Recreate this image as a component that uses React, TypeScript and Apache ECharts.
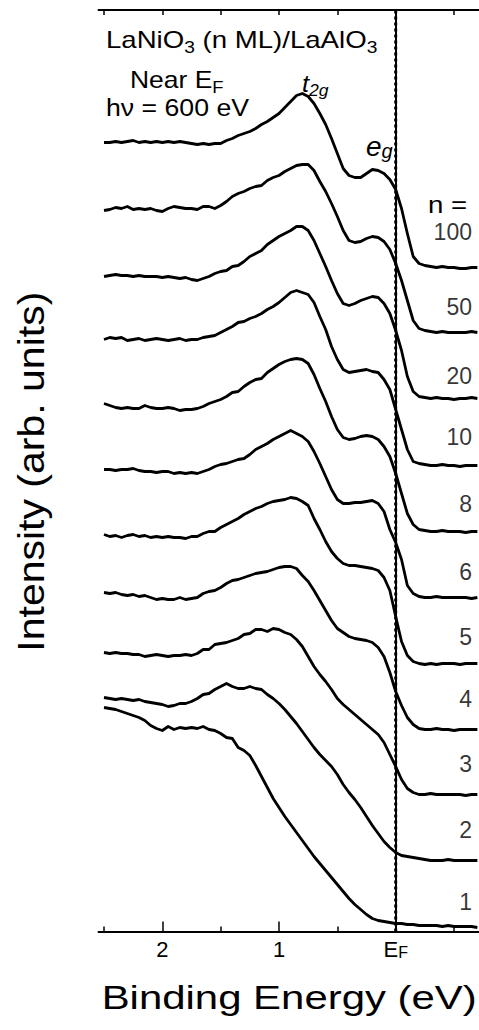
import React, { useEffect, useRef } from "react";
import * as echarts from "echarts";

// Binding energy grid (eV), read every 0.05 eV
const energy = [
  2.5, 2.45, 2.4, 2.35, 2.3, 2.25, 2.2, 2.15, 2.1, 2.05,
  2.0, 1.95, 1.9, 1.85, 1.8, 1.75, 1.7, 1.65, 1.6, 1.55,
  1.5, 1.45, 1.4, 1.35, 1.3, 1.25, 1.2, 1.15, 1.1, 1.05,
  1.0, 0.95, 0.9, 0.85, 0.8, 0.75, 0.7, 0.65, 0.6, 0.55,
  0.5, 0.45, 0.4, 0.35, 0.3, 0.25, 0.2, 0.15, 0.1, 0.05,
  0.0, -0.05, -0.1, -0.15, -0.2, -0.25, -0.3, -0.35, -0.4, -0.45,
  -0.5, -0.55, -0.6, -0.65, -0.7,
];

const layerLabels = ["100", "50", "20", "10", "8", "6", "5", "4", "3", "2", "1"];

// vertical offset of each spectrum (arb. units)
const offsets = [664, 599, 533, 466, 400, 334, 268, 202, 137, 71, 5];

// intensities above each spectrum's own baseline
const n100 = [
  125, 125, 126, 125, 126, 127, 125, 126, 125, 126,
  125, 126, 125, 126, 125, 124, 123, 124, 123, 124,
  124, 127, 129, 132, 134, 136, 139, 143, 146, 150,
  154, 160, 166, 172, 174, 171, 164, 154, 143, 129,
  114, 99, 92, 90, 90, 94, 98, 97, 94, 88,
  78, 59, 34, 11, 4, 2, 1, 0, 1, 0,
  0, -1, -1, 0, 0,
];
const n50 = [
  122, 123, 125, 124, 126, 123, 124, 123, 124, 122,
  121, 124, 126, 125, 124, 124, 123, 126, 126, 124,
  127, 131, 136, 139, 141, 144, 146, 147, 152, 155,
  157, 161, 164, 167, 168, 168, 162, 151, 141, 129,
  116, 102, 92, 90, 91, 94, 96, 95, 91, 83,
  69, 52, 32, 12, 4, 2, 1, 0, 1, 0,
  0, 0, 0, 1, 0,
];
const n20 = [
  122, 123, 124, 123, 123, 122, 123, 122, 122, 122,
  121, 122, 121, 120, 121, 119, 118, 120, 122, 125,
  127, 128, 132, 133, 137, 142, 145, 148, 154, 158,
  162, 165, 168, 172, 172, 168, 158, 145, 132, 118,
  105, 95, 93, 95, 98, 100, 102, 101, 95, 85,
  68, 48, 22, 7, 2, 1, 0, 1, 0, 0,
  -1, 0, 0, 1, 0,
];
const n10 = [
  126, 128, 127, 128, 125, 126, 127, 125, 126, 127,
  126, 125, 126, 127, 125, 126, 126, 128, 129, 130,
  133, 136, 139, 143, 144, 147, 149, 152, 156, 159,
  163, 168, 173, 175, 173, 171, 163, 149, 136, 119,
  106, 96, 93, 94, 95, 96, 94, 93, 86, 76,
  56, 36, 16, 4, 2, 1, 0, 0, 1, 0,
  0, -1, 0, 0, 0,
];
const n8 = [
  128, 126, 124, 123, 124, 123, 123, 126, 124, 123,
  123, 124, 123, 121, 122, 122, 123, 125, 128, 130,
  132, 135, 139, 140, 145, 149, 152, 153, 159, 163,
  167, 170, 172, 173, 172, 168, 157, 143, 130, 115,
  102, 94, 92, 93, 95, 96, 95, 92, 85, 75,
  58, 38, 18, 7, 2, 1, 0, 0, 1, 0,
  0, 0, -1, 0, 0,
];
const n6 = [
  128, 128, 127, 128, 128, 129, 127, 126, 126, 125,
  126, 126, 124, 125, 124, 125, 124, 126, 128, 131,
  133, 134, 136, 138, 139, 143, 148, 151, 154, 158,
  161, 164, 167, 164, 161, 156, 146, 134, 121, 108,
  98, 94, 94, 95, 95, 96, 97, 94, 86, 68,
  55, 38, 12, 4, 1, 0, 0, 1, 0, 0,
  0, 0, 0, -1, 0,
];
const n5 = [
  129, 127, 128, 126, 128, 129, 127, 128, 126, 127,
  126, 127, 126, 126, 125, 127, 127, 130, 132, 132,
  136, 139, 142, 145, 149, 152, 155, 157, 160, 162,
  163, 164, 166, 165, 162, 158, 145, 134, 122, 112,
  105, 100, 98, 98, 97, 96, 95, 93, 86, 73,
  47, 22, 8, 2, 0, -1, 0, -1, 0, 0,
  0, -1, 0, 0, 0,
];
const n4 = [
  137, 136, 137, 135, 134, 135, 133, 134, 132, 130,
  131, 130, 130, 132, 130, 131, 132, 136, 138, 139,
  142, 146, 149, 150, 152, 154, 156, 157, 158, 160,
  162, 163, 163, 161, 154, 148, 139, 129, 119, 109,
  101, 97, 93, 91, 90, 89, 87, 82, 73, 57,
  38, 24, 12, 5, 1, 0, 0, 1, 0, 0,
  -1, 0, 0, 0, 0,
];
const n3 = [
  142, 141, 142, 141, 141, 140, 140, 138, 139, 140,
  139, 138, 139, 139, 140, 139, 141, 145, 145, 150,
  151, 152, 154, 156, 160, 161, 165, 165, 163, 166,
  165, 162, 160, 155, 148, 138, 128, 120, 113, 105,
  96, 90, 85, 80, 75, 70, 65, 60, 52, 40,
  28, 15, 6, 2, 0, 0, 1, 0, 0, 0,
  0, 0, -1, 0, 0,
];
const n2 = [
  163, 162, 161, 162, 161, 160, 161, 159, 158, 157,
  156, 154, 155, 157, 157, 159, 162, 166, 167, 171,
  174, 177, 174, 172, 172, 174, 172, 171, 166, 162,
  157, 151, 144, 137, 129, 121, 113, 106, 100, 94,
  86, 76, 68, 61, 53, 44, 35, 27, 19, 13,
  8, 5, 4, 3, 2, 1, 0, 0, 0, 1,
  0, 0, 0, 0, 0,
];
const n1 = [
  219, 218, 217, 215, 213, 211, 209, 206, 201, 198,
  196, 200, 197, 199, 198, 199, 198, 200, 197, 196,
  193, 189, 188, 179, 176, 171, 161, 150, 139, 128,
  119, 110, 102, 94, 86, 78, 70, 63, 56, 49,
  42, 35, 28, 22, 17, 12, 8, 6, 5, 4,
  3, 3, 2, 2, 1, 1, 1, 1, 0, 1,
  0, 0, 0, 0, -1,
];

const spectra = [n100, n50, n20, n10, n8, n6, n5, n4, n3, n2, n1];

const majorTicks = [2, 1, 0];
const minorTicks = [2.5, 1.5, 0.5, -0.5];
const allTicks = [2.5, 2, 1.5, 1, 0.5, 0, -0.5];
const fermiLevel = 0;

// ---- layout (not data) ----
const X_MIN = -0.714;
const X_MAX = 2.547;
const Y_MAX = 921.5;
const LABEL_E = -0.654;
const labelLift = [36, 26, 23, 29, 28, 26, 27, 31, 31, 31, 25];
const FONT = "'Liberation Sans', Arial, Helvetica, sans-serif";

function buildOption() {
  const baseX = {
    type: "value",
    min: X_MIN,
    max: X_MAX,
    inverse: true,
    splitLine: { show: false },
  };
  const lineSeries = spectra.map((vals, i) => ({
    type: "line",
    name: "n = " + layerLabels[i],
    xAxisIndex: 0,
    yAxisIndex: 0,
    data: energy.map((e, j) => [e, offsets[i] + vals[j]]),
    showSymbol: false,
    symbol: "none",
    smooth: false,
    lineStyle: { color: "#000", width: 2.8, join: "round" },
    silent: true,
    z: 3,
  }));

  const fermiSeries = {
    type: "line",
    name: "EF",
    xAxisIndex: 0,
    yAxisIndex: 0,
    data: [
      [fermiLevel, 0],
      [fermiLevel, Y_MAX],
    ],
    showSymbol: false,
    symbol: "none",
    silent: true,
    z: 2,
    lineStyle: { color: "#000", width: 3, type: [3, 3], opacity: 1 },
  };

  const labelSeries = {
    type: "scatter",
    xAxisIndex: 0,
    yAxisIndex: 0,
    symbolSize: 1,
    itemStyle: { color: "transparent" },
    silent: true,
    data: layerLabels.map((t, i) => ({
      value: [LABEL_E, offsets[i] + labelLift[i]],
      name: t,
    })),
    label: {
      show: true,
      position: "inside",
      align: "right",
      verticalAlign: "middle",
      formatter: (p: any) => p.name,
      color: "#000",
      fontSize: 23,
      fontFamily: FONT,
    },
  };

  const text = (
    x: number,
    y: number,
    t: string,
    rich: any,
    opts: any = {}
  ) => ({
    type: "text",
    x,
    y,
    silent: true,
    z: 10,
    ...opts,
    style: {
      text: t,
      rich,
      fill: "#000",
      fontSize: 23,
      fontFamily: FONT,
      textAlign: opts.align || "left",
      align: opts.align || "left",
      textVerticalAlign: "middle",
      verticalAlign: "middle",
    },
  });

  const mainTok = { fontSize: 23, fontFamily: FONT, fill: "#000" };
  const subTok = {
    fontSize: 16,
    fontFamily: FONT,
    fill: "#000",
    padding: [15, 0, 0, 0],
  };

  return {
    animation: false,
    backgroundColor: "#fff",
    grid: { left: 98.5, right: 0, top: 10, bottom: 98.5, containLabel: false },
    xAxis: [
      {
        ...baseX,
        position: "bottom",
        axisLine: { show: true, lineStyle: { color: "#000", width: 2 } },
        axisTick: {
          show: true,
          inside: true,
          length: 10,
          customValues: majorTicks,
          lineStyle: { color: "#000", width: 1.5 },
        },
        axisLabel: {
          show: true,
          customValues: majorTicks,
          margin: 7,
          color: "#000",
          fontSize: 22,
          fontFamily: FONT,
          formatter: (v: number) => (v === 0 ? "{e|E}{f|F}" : String(v)),
          rich: {
            e: { fontSize: 22, fontFamily: FONT, color: "#000" },
            f: {
              fontSize: 16,
              fontFamily: FONT,
              color: "#000",
              padding: [6, 0, 0, 0],
            },
          },
        },
      },
      {
        ...baseX,
        position: "bottom",
        axisLine: { show: false },
        axisTick: {
          show: true,
          inside: true,
          length: 5,
          customValues: minorTicks,
          lineStyle: { color: "#000", width: 1.5 },
        },
        axisLabel: { show: false },
      },
      {
        ...baseX,
        position: "top",
        axisLine: { show: true, lineStyle: { color: "#000", width: 2 } },
        axisTick: {
          show: true,
          inside: true,
          length: 5,
          customValues: allTicks,
          lineStyle: { color: "#000", width: 1.5 },
        },
        axisLabel: { show: false },
      },
    ],
    yAxis: {
      type: "value",
      min: 0,
      max: Y_MAX,
      axisLine: { show: true, lineStyle: { color: "#000", width: 2 } },
      axisTick: { show: false },
      axisLabel: { show: false },
      splitLine: { show: false },
    },
    series: [fermiSeries, ...lineSeries, labelSeries],
    graphic: [
      text(
        106,
        40,
        "{a|LaNiO}{s|3}{a| (n ML)/LaAlO}{s|3}",
        { a: mainTok, s: subTok },
        { scaleX: 1.2 }
      ),
      text(130, 80, "{a|Near E}{s|F}", { a: mainTok, s: subTok }, { scaleX: 1.15 }),
      text(106, 108, "{a|h\u03bd = 600 eV}", { a: mainTok }, { scaleX: 1.16 }),
      text(
        302,
        84,
        "{a|t}{s|2g}",
        {
          a: { fontSize: 23, fontFamily: FONT, fontStyle: "italic", fill: "#000" },
          s: {
            fontSize: 16,
            fontFamily: FONT,
            fontStyle: "italic",
            fill: "#000",
            padding: [14, 0, 0, 0],
          },
        },
        { scaleX: 1.1 }
      ),
      text(
        366,
        146,
        "{a|e}{s|g}",
        {
          a: { fontSize: 28, fontFamily: FONT, fontStyle: "italic", fill: "#000" },
          s: {
            fontSize: 20,
            fontFamily: FONT,
            fontStyle: "italic",
            fill: "#000",
            padding: [9, 0, 0, 0],
          },
        },
        {}
      ),
      text(447.5, 205, "{a|n =}", { a: mainTok }, { scaleX: 1.2, align: "center" }),
      {
        type: "text",
        x: 31.7,
        y: 471.7,
        rotation: Math.PI / 2,
        scaleY: 0.9,
        silent: true,
        style: {
          text: "Intensity (arb. units)",
          fill: "#000",
          fontSize: 41,
          fontFamily: FONT,
          textAlign: "center",
          align: "center",
          textVerticalAlign: "middle",
          verticalAlign: "middle",
        },
      },
      {
        type: "text",
        x: 289.2,
        y: 998,
        scaleX: 1.29,
        silent: true,
        style: {
          text: "Binding Energy (eV)",
          fill: "#000",
          fontSize: 32.5,
          fontFamily: FONT,
          textAlign: "center",
          align: "center",
          textVerticalAlign: "middle",
          verticalAlign: "middle",
        },
      },
    ],
  };
}

export default function App() {
  const ref = useRef<HTMLDivElement | null>(null);
  useEffect(() => {
    if (!ref.current) return;
    const chart = echarts.init(ref.current, undefined, { renderer: "svg" });
    chart.setOption(buildOption() as any);
    return () => {
      chart.dispose();
    };
  }, []);
  return (
    <div
      ref={ref}
      style={{
        position: "fixed",
        left: 0,
        top: 0,
        width: 479,
        height: 1030,
        background: "#fff",
      }}
    />
  );
}
